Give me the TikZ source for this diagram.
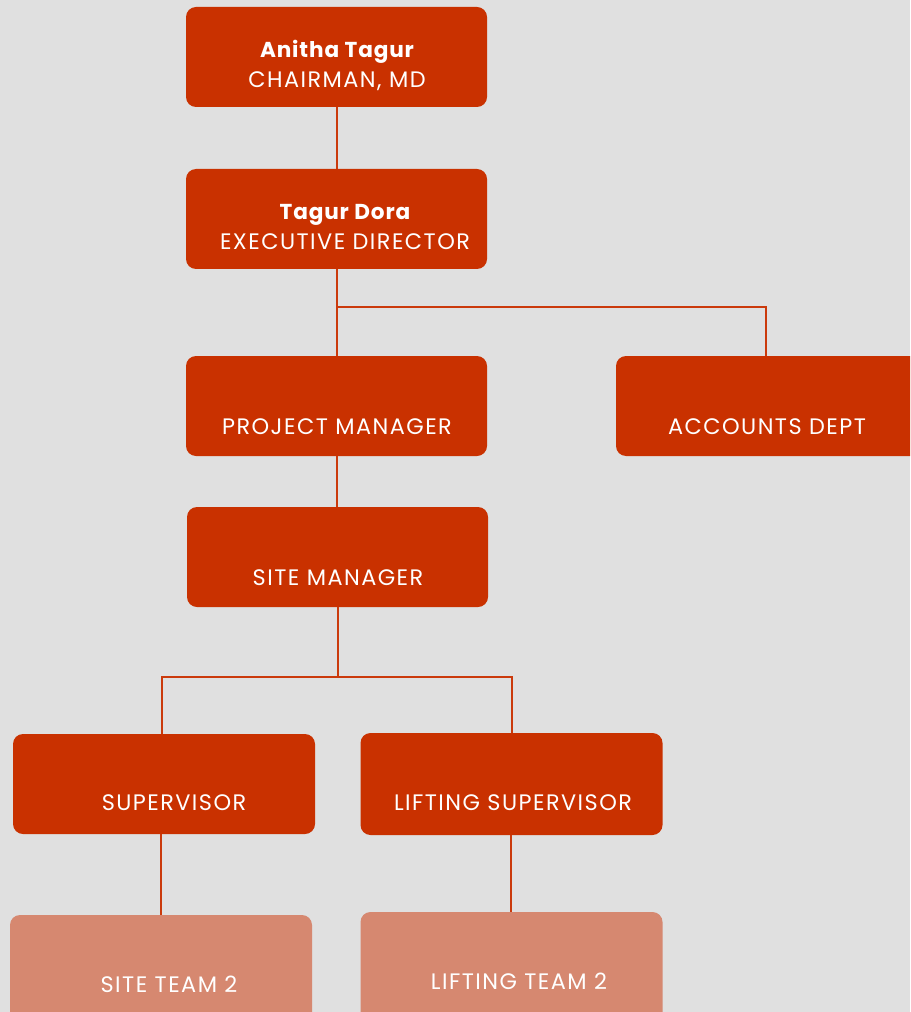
\documentclass[tikz,border=0pt]{standalone}
\usepackage{fontspec}
\setmainfont{Poppins}[LetterSpace=6.5]
\newfontfamily\namefont{Poppins}[LetterSpace=4]
\definecolor{bg}{HTML}{E0E0E0}
\definecolor{boxred}{HTML}{C93100}
\definecolor{boxlight}{HTML}{D68870}
\definecolor{linered}{HTML}{CB3A0C}
\tikzset{
  box/.style={rectangle, rounded corners=10*0.75pt, fill=boxred, draw=none,
    minimum width=301*0.75pt, minimum height=100*0.75pt, inner sep=0pt},
  lightbox/.style={box, fill=boxlight},
  lbl/.style={text=white, font=\fontsize{16.8}{18}\selectfont, inner sep=0pt, anchor=base},
  namelbl/.style={text=white, font=\namefont\bfseries\fontsize{16.2}{18}\selectfont, inner sep=0pt, anchor=base},
  conn/.style={draw=linered, line width=1.5*0.75pt}
}
\begin{document}
\begin{tikzpicture}[x=0.75pt, y=-0.75pt]
\useasboundingbox (0,0) rectangle (910,1012);
\fill[bg] (0,0) rectangle (910,1012);
\clip (0,0) rectangle (910,1012);
% boxes
\node[box] (chair) at (336.5,57) {};
\node[box] (exec) at (336.5,219) {};
\node[box] (pm) at (336.5,406) {};
\node[box, minimum width=310*0.75pt] (acc) at (771,406) {};
\node[box] (sm) at (337.5,557) {};
\node[box, minimum width=302*0.75pt] (sup) at (164,784) {};
\node[box, minimum width=302*0.75pt, minimum height=102*0.75pt] (lsup) at (511.5,784) {};
\node[lightbox, minimum width=302*0.75pt, minimum height=110*0.75pt] (st) at (161,970) {};
\node[lightbox, minimum width=302*0.75pt, minimum height=110*0.75pt] (lt) at (511.5,967) {};
% texts
\node[namelbl] (chairname) at (337,57.5) {Anitha Tagur};
\node[lbl] (chairrole) at (337,87.5) {CHAIRMAN, MD};
\node[namelbl] (execname) at (345,219.5) {Tagur Dora};
\node[lbl] (execrole) at (345,249.5) {EXECUTIVE DIRECTOR};
\node[lbl] (pmt) at (337,434.5) {PROJECT MANAGER};
\node[lbl] (acct) at (767,434.5) {ACCOUNTS DEPT};
\node[lbl] (smt) at (338,585.5) {SITE MANAGER};
\node[lbl] (supt) at (174,810.5) {SUPERVISOR};
\node[lbl] (lsupt) at (513,810.5) {LIFTING SUPERVISOR};
\node[lbl] (stt) at (169,992.5) {SITE TEAM 2};
\node[lbl] (ltt) at (519,989.5) {LIFTING TEAM 2};
% connectors
\coordinate (j1) at (337,307);
\coordinate (j2) at (338,677);
\draw[conn] (chair.south -| 337,0) -- (exec.north -| 337,0);
\draw[conn] (exec.south -| 337,0) -- (pm.north -| 337,0);
\draw[conn] (j1) -| (acc.north -| 766,0);
\draw[conn] (pm.south -| 337,0) -- (sm.north -| 337,0);
\draw[conn] (sm.south -| j2) -- (j2);
\draw[conn] (j2) -| (sup.north -| 162,0);
\draw[conn] (j2) -| (lsup.north -| 512,0);
\draw[conn] (sup.south -| 161,0) -- (st.north -| 161,0);
\draw[conn] (lsup.south -| 511,0) -- (lt.north -| 511,0);
\end{tikzpicture}
\end{document}
